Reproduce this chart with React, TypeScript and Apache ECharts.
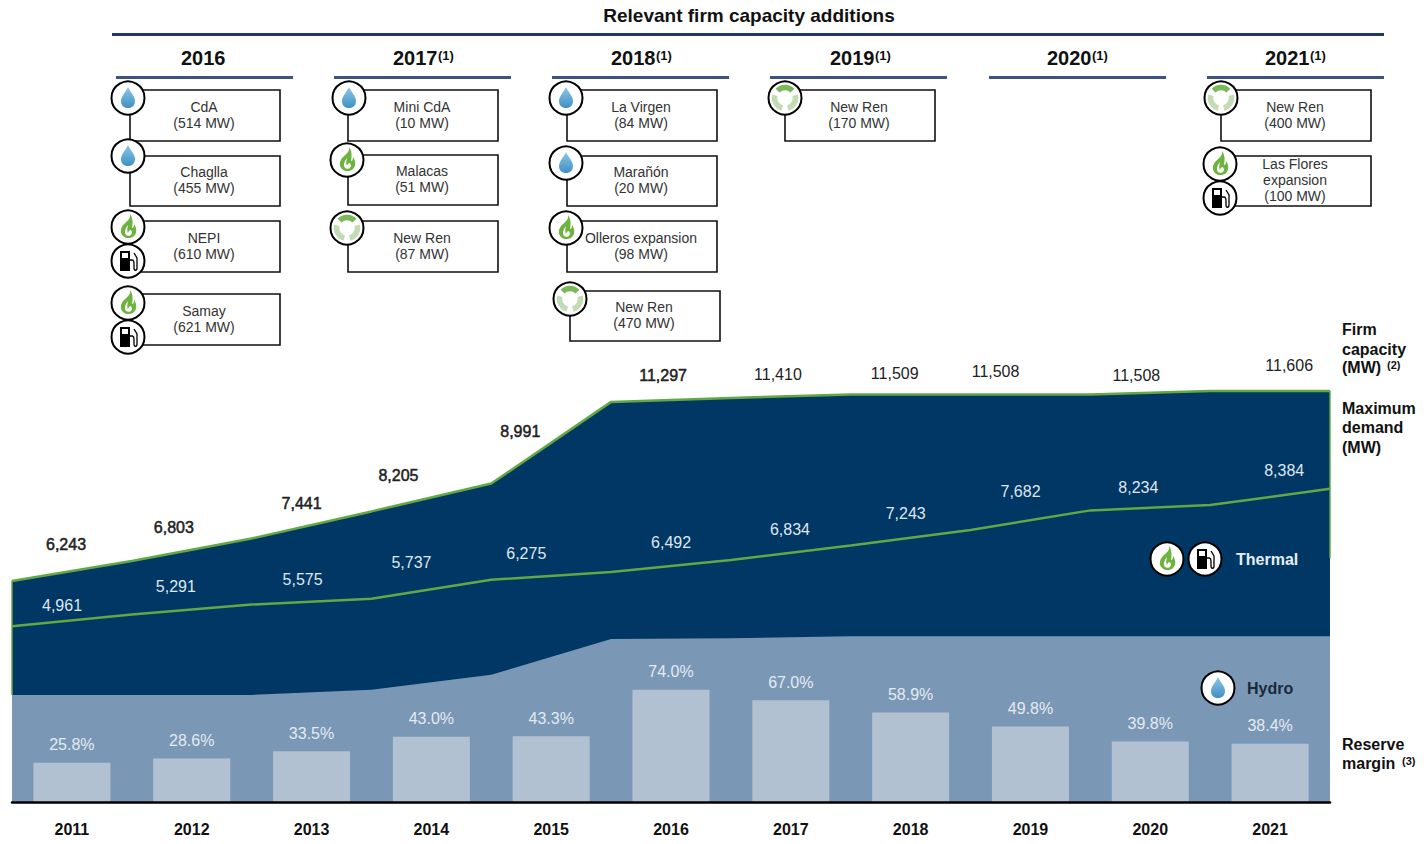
import React, { useEffect, useRef } from "react";
import * as echarts from "echarts";

// ---- data ----
const years = ["2011", "2012", "2013", "2014", "2015", "2016", "2017", "2018", "2019", "2020", "2021"];
const edges = ["e0", "e1", "e2", "e3", "e4", "e5", "e6", "e7", "e8", "e9", "e10", "e11"];
const firmCapacity = [6243, 6803, 7441, 8205, 8991, 11297, 11410, 11509, 11508, 11508, 11606, 11606];
const maxDemand = [4961, 5291, 5575, 5737, 6275, 6492, 6834, 7243, 7682, 8234, 8384, 8842];
const hydroCapacity = [3023, 3023, 3023, 3170, 3590, 4605, 4625, 4680, 4680, 4680, 4680, 4680];
const reserveMargin = [25.8, 28.6, 33.5, 43.0, 43.3, 74.0, 67.0, 58.9, 49.8, 39.8, 38.4];

const colHeaders = ["2016", "2017", "2018", "2019", "2020", "2021"];
const colHasNote = [false, true, true, true, true, true];

type Add = { lines: string[]; icons: string[] };
const additions2016: Add[] = [
  { lines: ["CdA", "(514 MW)"], icons: ["drop"] },
  { lines: ["Chaglla", "(455 MW)"], icons: ["drop"] },
  { lines: ["NEPI", "(610 MW)"], icons: ["flame", "pump"] },
  { lines: ["Samay", "(621 MW)"], icons: ["flame", "pump"] },
];
const additions2017: Add[] = [
  { lines: ["Mini CdA", "(10 MW)"], icons: ["drop"] },
  { lines: ["Malacas", "(51 MW)"], icons: ["flame"] },
  { lines: ["New Ren", "(87 MW)"], icons: ["recycle"] },
];
const additions2018: Add[] = [
  { lines: ["La Virgen", "(84 MW)"], icons: ["drop"] },
  { lines: ["Marañón", "(20 MW)"], icons: ["drop"] },
  { lines: ["Olleros expansion", "(98 MW)"], icons: ["flame"] },
  { lines: ["New Ren", "(470 MW)"], icons: ["recycle"] },
];
const additions2019: Add[] = [{ lines: ["New Ren", "(170 MW)"], icons: ["recycle"] }];
const additions2021: Add[] = [
  { lines: ["New Ren", "(400 MW)"], icons: ["recycle"] },
  { lines: ["Las Flores", "expansion", "(100 MW)"], icons: ["flame", "pump"] },
];

// ---- layout (pixels) ----
const GRID_LEFT = 12;
const GRID_WIDTH = 1318;
const GRID_TOP = 377;
const GRID_HEIGHT = 425;
const colBarX = [116, 334, 552, 770, 989, 1207];
const colTextX = [181, 393, 611, 830, 1047, 1265];
// [box left, top, bottom, icon cx, icon cy, second icon cy]
const boxes2016 = [[130, 90, 141, 128, 98], [130, 156, 206, 128, 156], [130, 221, 272, 128, 227, 261], [130, 294, 345, 128, 303, 337]];
const boxes2017 = [[348, 90, 141, 349, 98], [348, 155, 205, 347, 160], [348, 221, 272, 347, 228]];
const boxes2018 = [[567, 90, 141, 566, 98], [567, 156, 206, 566, 163], [567, 221, 272, 566, 228], [570, 291, 341, 570, 299]];
const boxes2019 = [[785, 90, 141, 785, 98]];
const boxes2021 = [[1221, 90, 141, 1221, 98], [1221, 156, 206, 1220, 164, 198]];
const firmLabelOffsets = [[54, -36], [42, -34], [50, -35], [27, -36], [29, -52], [52, -26], [47, -23], [44, -21], [25, -23], [46, -19], [79, -25]];
const demandLabelOffsets = [[50, -21], [44, -28], [51, -25], [40, -36], [35, -26], [60, -30], [59, -30], [55, -32], [50, -38], [48, -23], [74, -35]];

const FONT = '"Liberation Sans", Arial, sans-serif';
const NAVY = "#003764";
const HYDRO = "#7a98b5";
const BAR = "#b2c1d1";
const GREEN = "#63a844";

echarts.graphic.registerShape("dropIcon", echarts.graphic.extendPath("M0,-11 C2,-6 7,-2 7,3 C7,7.5 4,10 0,10 C-4,10 -7,7.5 -7,3 C-7,-2 -2,-6 0,-11 Z", {}));
echarts.graphic.registerShape("flameOuter", echarts.graphic.extendPath("M2,-13 C3,-8 -1,-6 -4,-3 C-8,1 -8,6 -5,9 C-3,11.5 3,12 6,9 C9,6 9,1 6,-3 C6,0 5,1 4,1 C5,-4 5,-9 2,-13 Z", {}));
echarts.graphic.registerShape("flameInner", echarts.graphic.extendPath("M0,-2 C-3,2 -4,5 -2,8 C0,9.5 3,9 4,6 C4,4 3,3 2,3 C1,4 0,5 0,6 C-1,4 -1,2 0,-2 Z", {}));
echarts.graphic.registerShape("pumpHose", echarts.graphic.extendPath("M2,-1 H4 C6,-1 6,1 6,3 V7 C6,10 9,10 9,7 V-3 L6,-8", {}));

const ICON_Z = 20;

function icon(kind: string, x: number, y: number) {
  const children: any[] = [
    { type: "circle", z: ICON_Z, shape: { cx: 0, cy: 0, r: 16.5 }, style: { fill: "#fff", stroke: "#000", lineWidth: 2 } },
  ];
  if (kind === "drop") {
    children.push({
      type: "dropIcon",
      z: ICON_Z + 1,
      style: {
        fill: new echarts.graphic.LinearGradient(0, 0, 0, 1, [
          { offset: 0, color: "#8cc8e8" },
          { offset: 1, color: "#3f8fc4" },
        ]),
      },
    });
  } else if (kind === "flame") {
    children.push({ type: "flameOuter", z: ICON_Z + 1, style: { fill: "#6db33f" } });
    children.push({ type: "flameInner", z: ICON_Z + 2, style: { fill: "#fff" } });
  } else if (kind === "pump") {
    children.push({ type: "rect", z: ICON_Z + 1, shape: { x: -8, y: -10, width: 10, height: 20 }, style: { fill: "#000" } });
    children.push({ type: "rect", z: ICON_Z + 2, shape: { x: -6, y: -8, width: 6, height: 5 }, style: { fill: "#fff" } });
    children.push({ type: "pumpHose", z: ICON_Z + 1, style: { fill: "none", stroke: "#000", lineWidth: 1.3 } });
  } else {
    const arc = (a: number, b: number, c: string) => ({
      type: "arc",
      z: ICON_Z + 1,
      shape: { cx: 0, cy: 0, r: 10.5, startAngle: (a * Math.PI) / 180, endAngle: (b * Math.PI) / 180 },
      style: { fill: "none", stroke: c, lineWidth: 5.5 },
    });
    children.push(arc(-135, -45, "#7ab85a"));
    children.push(arc(-15, 75, "#c3dcb6"));
    children.push(arc(105, 195, "#c3dcb6"));
  }
  return { type: "group", x, y, children };
}

function text(s: string, x: number, y: number, fontSize: number, opts: any = {}) {
  return {
    type: "text",
    x,
    y,
    z: 30,
    style: {
      text: s,
      fontSize,
      fontFamily: FONT,
      fontWeight: "normal",
      fill: "#333",
      align: "left",
      verticalAlign: "middle",
      ...opts,
    },
  };
}

function buildBoxes(list: Add[], layout: number[][]) {
  const out: any[] = [];
  list.forEach((a, i) => {
    const [left, top, bottom, ix, iy, iy2] = layout[i];
    out.push({
      type: "rect",
      z: 10,
      shape: { x: left, y: top, width: 150, height: bottom - top },
      style: { fill: "#fff", stroke: "#111", lineWidth: 1.6 },
    });
    const cx = left + 74;
    const mid = (top + bottom) / 2 - 1;
    a.lines.forEach((l, k) => {
      out.push(text(l, cx, mid + (k - (a.lines.length - 1) / 2) * 16, 14, { align: "center" }));
    });
    out.push(icon(a.icons[0], ix, iy));
    if (a.icons[1]) out.push(icon(a.icons[1], ix, iy2));
  });
  return out;
}

function buildGraphics() {
  const g: any[] = [];
  g.push(text("Relevant firm capacity additions", 749, 15, 19, { align: "center", fontWeight: "bold", fill: "#111" }));
  g.push({ type: "rect", shape: { x: 112, y: 33, width: 1272, height: 3 }, style: { fill: "#1f3864" } });
  colHeaders.forEach((h, i) => {
    g.push(text(h, colTextX[i], 58, 20, { fontWeight: "bold", fill: "#111" }));
    if (colHasNote[i]) g.push(text("(1)", colTextX[i] + 45, 55, 13, { fontWeight: "bold", fill: "#111" }));
    g.push({ type: "rect", shape: { x: colBarX[i], y: 76, width: 177, height: 3 }, style: { fill: "#3d5480" } });
  });
  g.push(...buildBoxes(additions2016, boxes2016));
  g.push(...buildBoxes(additions2017, boxes2017));
  g.push(...buildBoxes(additions2018, boxes2018));
  g.push(...buildBoxes(additions2019, boxes2019));
  g.push(...buildBoxes(additions2021, boxes2021));

  g.push(icon("flame", 1167, 559));
  g.push(icon("pump", 1205, 559));
  g.push(text("Thermal", 1236, 559, 16, { fontWeight: "bold", fill: "#e8eef4" }));
  g.push(icon("drop", 1218, 688));
  g.push(text("Hydro", 1247, 688, 16, { fontWeight: "bold", fill: "#1a2a3a" }));

  const side = { fontWeight: "bold", fill: "#111" };
  g.push(text("Firm", 1342, 329, 16, side));
  g.push(text("capacity", 1342, 349, 16, side));
  g.push(text("(MW)", 1342, 367, 16, side));
  g.push(text("(2)", 1387, 365, 11, side));
  g.push(text("Maximum", 1342, 408, 16, side));
  g.push(text("demand", 1342, 427, 16, side));
  g.push(text("(MW)", 1342, 447, 16, side));
  g.push(text("Reserve", 1342, 744, 16, side));
  g.push(text("margin", 1342, 763, 16, side));
  g.push(text("(3)", 1402, 761, 11, side));
  return g;
}

const fmt = (p: any) => Number(p.value).toLocaleString("en-US");

export default function App() {
  const ref = useRef<HTMLDivElement>(null);
  useEffect(() => {
    const chart = echarts.init(ref.current!, undefined, { renderer: "svg" });
    chart.setOption({
      animation: false,
      backgroundColor: "#fff",
      textStyle: { fontFamily: FONT },
      grid: { left: GRID_LEFT, top: GRID_TOP, width: GRID_WIDTH, height: GRID_HEIGHT, containLabel: false },
      xAxis: [
        {
          type: "category",
          data: years,
          boundaryGap: true,
          axisTick: { show: false },
          axisLine: { show: true, lineStyle: { color: "#000", width: 2.5 } },
          axisLabel: { color: "#111", fontSize: 16, fontWeight: "bold", margin: 19, fontFamily: FONT },
          z: 10,
        },
        { type: "category", data: edges, boundaryGap: false, show: false },
      ],
      yAxis: [
        { type: "value", min: 0, max: 12000, show: false, splitLine: { show: false } },
        { type: "value", min: 0, max: 280, show: false, splitLine: { show: false } },
      ],
      graphic: { elements: buildGraphics() },
      series: [
        {
          name: "Firm capacity",
          type: "line",
          xAxisIndex: 1,
          yAxisIndex: 0,
          z: 1,
          data: firmCapacity.map((v, i) => ({
            value: v,
            label:
              i < firmLabelOffsets.length
                ? {
                    show: true,
                    offset: firmLabelOffsets[i],
                    textBorderColor: i <= 5 ? "#222" : "transparent",
                    textBorderWidth: i <= 5 ? 0.5 : 0,
                  }
                : { show: false },
          })),
          showSymbol: true,
          showAllSymbol: true,
          symbol: "circle",
          symbolSize: 1,
          itemStyle: { color: GREEN },
          lineStyle: { color: GREEN, width: 2.5 },
          areaStyle: { color: NAVY, opacity: 1 },
          label: { show: true, position: "inside", formatter: fmt, color: "#222", fontSize: 16, fontFamily: FONT },
          markLine: {
            silent: true,
            symbol: "none",
            label: { show: false },
            lineStyle: { type: "solid", color: GREEN, width: 1.5 },
            data: [
              [{ xAxis: "e0", yAxis: 3023 }, { xAxis: "e0", yAxis: 6243 }],
              [{ xAxis: "e11", yAxis: 6890 }, { xAxis: "e11", yAxis: 11606 }],
            ],
          },
        },
        {
          name: "Maximum demand",
          type: "line",
          xAxisIndex: 1,
          yAxisIndex: 0,
          z: 2,
          data: maxDemand.map((v, i) => ({
            value: v,
            label: i < demandLabelOffsets.length ? { show: true, offset: demandLabelOffsets[i] } : { show: false },
          })),
          showSymbol: true,
          showAllSymbol: true,
          symbol: "circle",
          symbolSize: 1,
          itemStyle: { color: GREEN },
          lineStyle: { color: GREEN, width: 2.5 },
          label: { show: true, position: "inside", formatter: fmt, color: "#dfe7ef", fontSize: 16, fontFamily: FONT },
        },
        {
          name: "Hydro",
          type: "line",
          xAxisIndex: 1,
          yAxisIndex: 0,
          z: 3,
          data: hydroCapacity,
          showSymbol: false,
          lineStyle: { width: 0 },
          areaStyle: { color: HYDRO, opacity: 1 },
        },
        {
          name: "Reserve margin",
          type: "bar",
          xAxisIndex: 0,
          yAxisIndex: 1,
          z: 4,
          barWidth: 77,
          data: reserveMargin,
          itemStyle: { color: BAR },
          label: {
            show: true,
            position: "top",
            distance: 10,
            formatter: (p: any) => Number(p.value).toFixed(1) + "%",
            color: "#e4eaf1",
            fontSize: 16,
            fontFamily: FONT,
          },
        },
      ],
    });
    return () => chart.dispose();
  }, []);
  return <div ref={ref} style={{ position: "absolute", left: 0, top: 0, width: 1428, height: 844 }} />;
}
